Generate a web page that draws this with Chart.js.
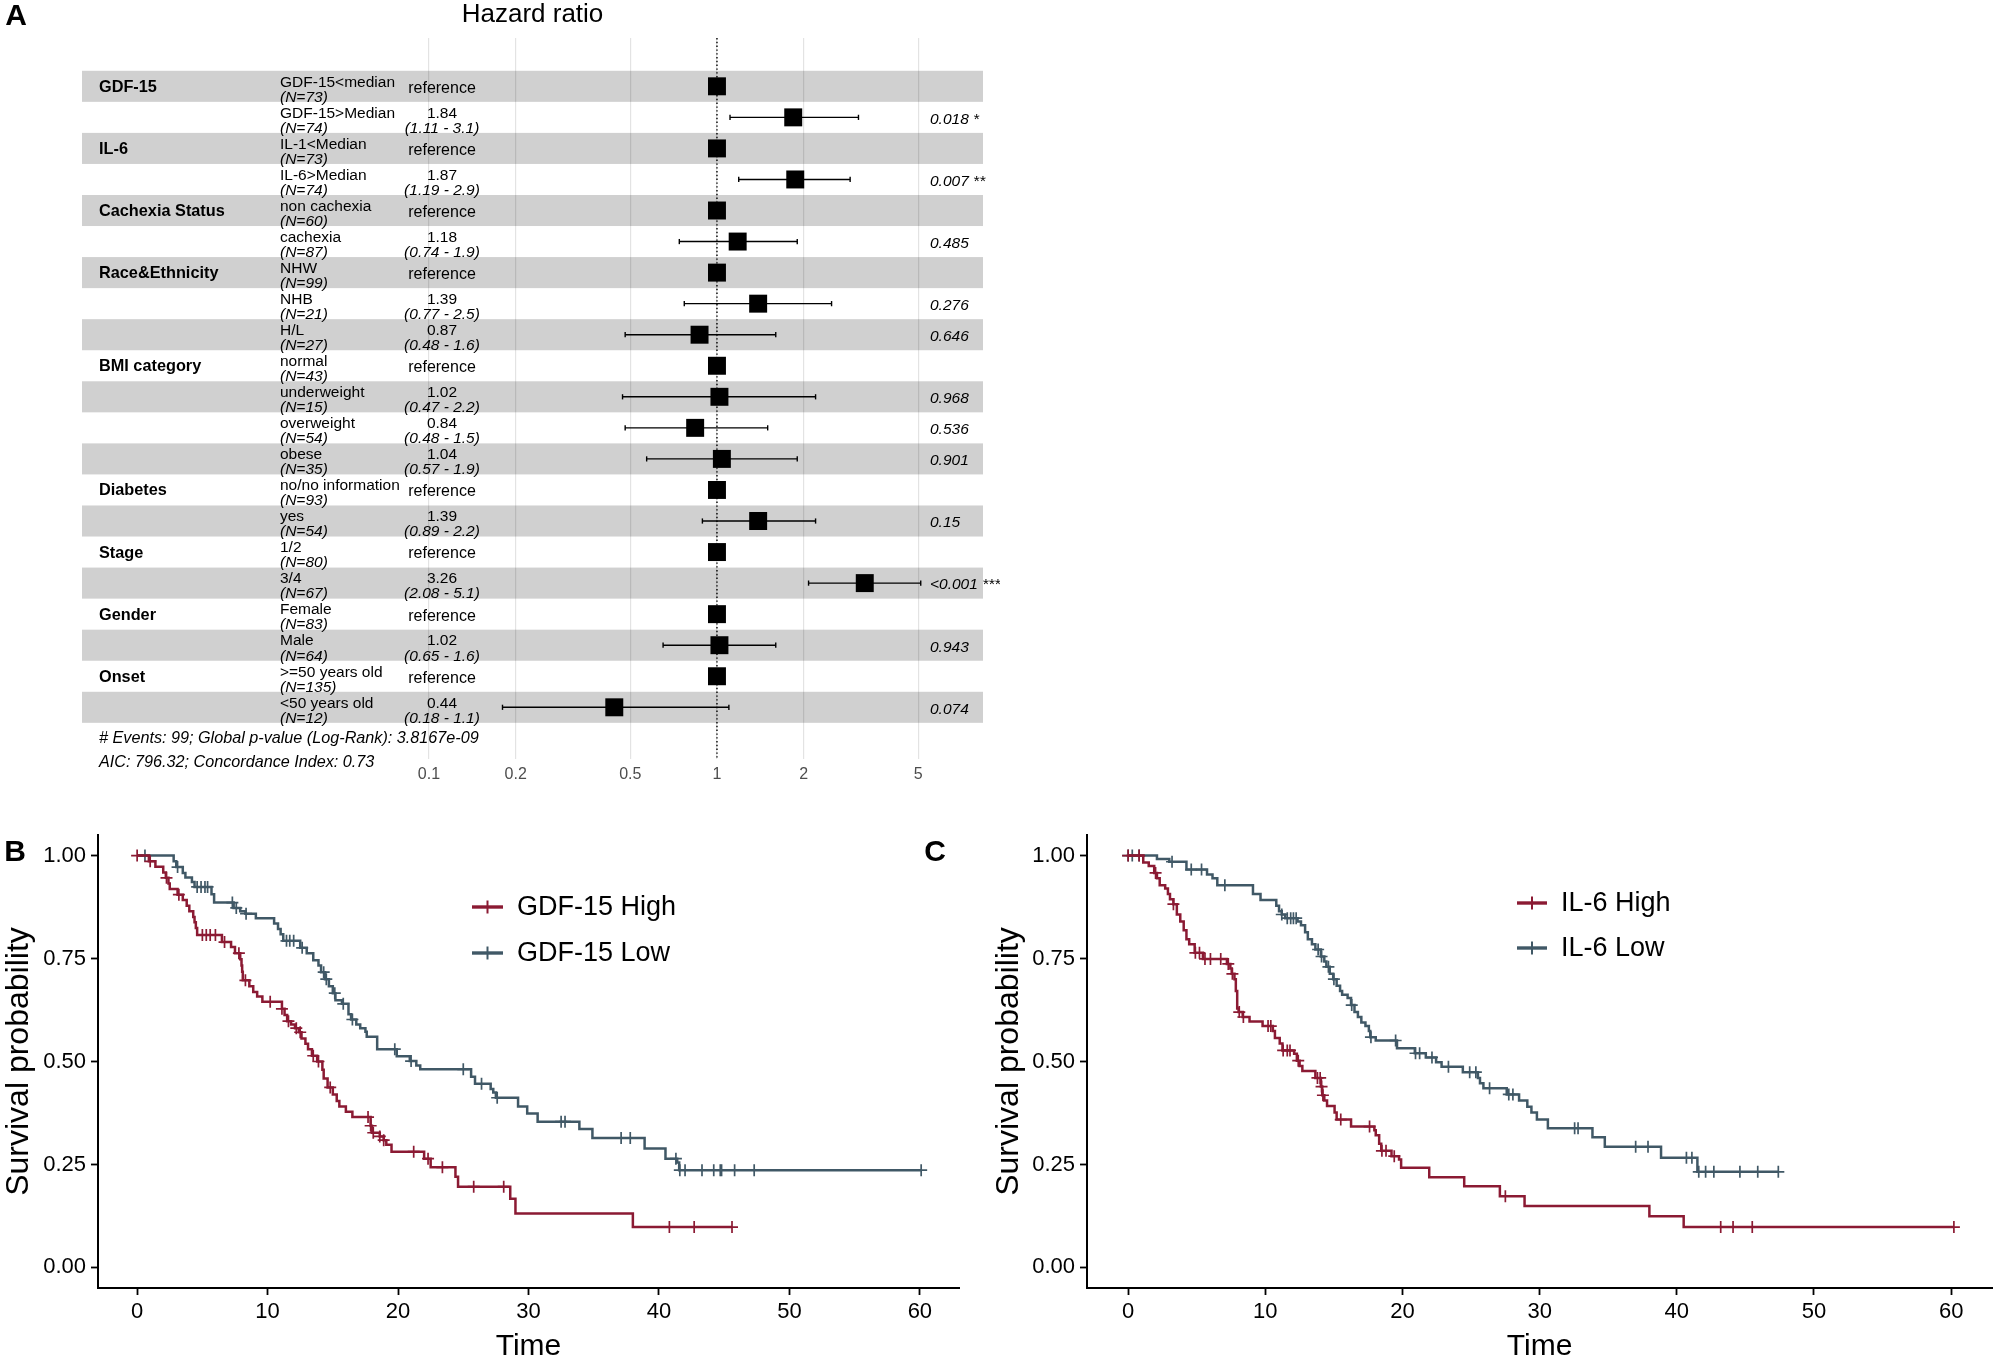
<!DOCTYPE html>
<html>
<head>
<meta charset="utf-8">
<title>Forest plot and Kaplan-Meier curves</title>
<script src="https://cdn.jsdelivr.net/npm/chart.js@4.4.1/dist/chart.umd.min.js"></script>
<style>
html,body{margin:0;padding:0;background:#fff;}
#wrap{position:relative;width:2000px;height:1362px;overflow:hidden;background:#fff;}
#wrap canvas{position:absolute;}
.panel{position:absolute;font:bold 30px "Liberation Sans",Arial,sans-serif;color:#000;line-height:30px;transform:translate(-50%,-50%);}
</style>
</head>
<body>
<div id="wrap">
  <canvas id="forest" width="1000" height="800" style="left:0;top:0;width:1000px;height:800px"></canvas>
  <canvas id="kmB" width="990" height="562" style="left:0;top:800px;width:990px;height:562px"></canvas>
  <canvas id="kmC" width="1010" height="562" style="left:990px;top:800px;width:1010px;height:562px"></canvas>
  <div class="panel" style="left:16px;top:15px">A</div>
  <div class="panel" style="left:15px;top:851px">B</div>
  <div class="panel" style="left:935px;top:851px">C</div>
</div>
<script>
// ---------------- Panel A: forest plot data ----------------
const fpVariables = ['GDF-15','','IL-6','','Cachexia Status','','Race&Ethnicity','','','BMI category','','','','Diabetes','','Stage','','Gender','','Onset',''];
const fpLevels = ['GDF-15<median','GDF-15>Median','IL-1<Median','IL-6>Median','non cachexia','cachexia','NHW','NHB','H/L','normal','underweight','overweight','obese','no/no information','yes','1/2','3/4','Female','Male','>=50 years old','<50 years old'];
const fpN = [73,74,73,74,60,87,99,21,27,43,15,54,35,93,54,80,67,83,64,135,12];
const fpHR = [1,1.84,1,1.87,1,1.18,1,1.39,0.87,1,1.02,0.84,1.04,1,1.39,1,3.26,1,1.02,1,0.44];
const fpLow = [null,1.11,null,1.19,null,0.74,null,0.77,0.48,null,0.47,0.48,0.57,null,0.89,null,2.08,null,0.65,null,0.18];
const fpHigh = [null,3.1,null,2.9,null,1.9,null,2.5,1.6,null,2.2,1.5,1.9,null,2.2,null,5.1,null,1.6,null,1.1];
const fpP = ['','0.018 *','','0.007 **','','0.485','','0.276','0.646','','0.968','0.536','0.901','','0.15','','<0.001 ***','','0.943','','0.074'];
const fpTicks = [0.1,0.2,0.5,1,2,5];
const fpTickLabels = ['0.1','0.2','0.5','1','2','5'];
const fpTitle = 'Hazard ratio';
const fpFooter = ['# Events: 99; Global p-value (Log-Rank): 3.8167e-09','AIC: 796.32; Concordance Index: 0.73'];
const fpRefValue = 1;

// ---------------- Panels B/C: Kaplan-Meier data ----------------
const kmTimeTicks = [0,10,20,30,40,50,60];
const kmSurvTicks = [0,0.25,0.5,0.75,1];
const kmSurvLabels = ['0.00','0.25','0.50','0.75','1.00'];
const kmXTitle = 'Time';
const kmYTitle = 'Survival probability';

const bLabels = ['GDF-15 High','GDF-15 Low'];
const bHighT = [0.9,1.4,2.0,2.2,2.4,2.5,3.1,3.5,3.8,4.0,4.3,4.4,4.5,4.6,6.5,7.2,7.5,7.9,8.0,8.05,8.1,8.6,8.9,9.2,9.6,11.1,11.3,11.5,11.8,12.1,12.4,12.6,12.9,13.1,13.4,13.8,14.2,14.3,14.6,15.0,15.3,15.5,16.0,16.5,17.9,18.0,18.6,18.9,19.1,19.5,22.0,22.5,24.4,24.6,28.6,29.0,38.0];
const bHighS = [0.986,0.973,0.959,0.946,0.932,0.919,0.905,0.892,0.878,0.865,0.851,0.838,0.824,0.807,0.790,0.778,0.763,0.748,0.733,0.718,0.697,0.683,0.669,0.658,0.645,0.628,0.613,0.598,0.590,0.581,0.571,0.556,0.543,0.530,0.514,0.500,0.480,0.459,0.437,0.420,0.404,0.391,0.378,0.365,0.344,0.327,0.318,0.309,0.298,0.281,0.264,0.243,0.220,0.196,0.167,0.131,0.098];
const bHighCens = [0,1.0,2.25,3.2,5.0,5.3,5.6,6.0,6.7,7.8,8.3,10.2,11.1,11.6,12.2,12.5,13.5,13.9,14.8,17.7,17.9,18.1,18.6,18.9,21.2,22.3,23.4,25.8,28.1,40.8,42.7,45.6];
const bLowT = [2.8,3.0,3.5,3.7,4.2,4.4,5.7,5.9,7.4,7.9,8.3,9.1,10.5,10.8,11.0,11.2,12.5,13.0,13.5,13.9,14.1,14.4,14.7,15.0,15.2,15.7,16.2,16.4,16.8,17.1,17.5,17.6,18.4,19.9,20.9,21.4,21.7,25.6,25.9,27.1,27.3,27.5,29.2,29.9,30.7,33.9,34.9,38.9,40.5,41.4,41.55];
const bLowS = [0.986,0.972,0.958,0.947,0.936,0.924,0.906,0.886,0.873,0.865,0.859,0.848,0.835,0.822,0.809,0.793,0.776,0.763,0.746,0.733,0.717,0.700,0.683,0.666,0.649,0.640,0.615,0.602,0.590,0.581,0.572,0.560,0.530,0.513,0.501,0.490,0.481,0.463,0.446,0.433,0.425,0.412,0.391,0.374,0.354,0.336,0.314,0.289,0.264,0.255,0.236];
const bLowCens = [0.6,3.1,4.6,4.9,5.2,5.4,7.3,7.6,8.35,11.45,11.7,12.0,12.65,14.3,14.5,15.15,15.8,16.5,19.75,21.0,25.0,26.4,27.6,32.5,32.8,37.1,37.8,41.3,41.6,42.0,43.3,44.2,44.7,44.8,45.8,47.3,60.1];

const cLabels = ['IL-6 High','IL-6 Low'];
const cHighT = [1.1,1.5,1.9,2.1,2.3,2.7,2.9,3.05,3.3,3.55,3.8,4.05,4.25,4.45,4.85,5.45,7.2,7.45,7.55,7.75,7.85,7.95,8.05,8.35,8.85,9.8,10.55,10.7,11.05,11.25,12.1,12.3,12.5,12.7,13.65,14.05,14.15,14.3,14.5,15.05,15.2,16.25,17.95,18.05,18.3,18.45,19.2,19.75,19.9,21.95,24.5,27.1,28.9,38.0,40.5];
const cHighS = [0.983,0.975,0.958,0.945,0.928,0.920,0.907,0.894,0.882,0.857,0.840,0.819,0.797,0.785,0.764,0.749,0.737,0.726,0.713,0.700,0.671,0.629,0.620,0.608,0.597,0.586,0.574,0.557,0.544,0.527,0.519,0.502,0.489,0.477,0.460,0.439,0.418,0.405,0.392,0.376,0.359,0.342,0.333,0.321,0.300,0.283,0.270,0.262,0.242,0.219,0.197,0.173,0.149,0.124,0.098];
const cHighCens = [0,0.8,2.0,3.3,4.9,5.2,5.6,6.0,6.75,7.3,7.6,8.1,8.4,10.2,10.4,11.3,11.6,11.8,12.4,13.8,14.0,14.1,14.2,15.5,17.6,18.5,18.8,19.4,27.5,43.2,44.1,45.5,60.2];
const cLowT = [2.1,3.0,4.25,5.75,6.15,6.5,9.1,9.65,10.8,11.0,11.2,11.45,12.35,12.6,12.9,13.1,13.4,13.65,14.05,14.3,14.45,14.7,14.95,15.2,15.45,15.6,16.0,16.25,16.5,16.75,17.0,17.3,17.55,17.65,18.05,19.6,20.9,21.7,22.45,22.85,24.4,25.5,25.65,25.9,27.6,28.5,29.1,29.4,29.8,30.6,33.85,34.75,38.85,41.5];
const cLowS = [0.992,0.985,0.966,0.954,0.945,0.928,0.907,0.892,0.878,0.865,0.857,0.848,0.840,0.831,0.814,0.797,0.785,0.772,0.755,0.743,0.730,0.713,0.700,0.684,0.671,0.662,0.654,0.637,0.620,0.608,0.595,0.586,0.574,0.559,0.551,0.532,0.520,0.510,0.498,0.487,0.474,0.460,0.447,0.435,0.420,0.405,0.390,0.376,0.359,0.338,0.316,0.293,0.266,0.232];
const cLowCens = [0,0.3,0.8,3.2,4.6,5.35,7.05,11.2,11.6,11.85,12.05,12.25,13.85,14.1,14.6,15.0,16.3,17.7,19.5,20.95,21.25,22.15,23.35,24.9,25.35,26.35,27.75,28.05,32.55,32.8,37.0,37.9,40.7,41.1,41.6,42.1,42.7,44.6,45.9,47.4];

// ---------------- styling ----------------
const FONT = '"Liberation Sans", Arial, sans-serif';
const RED = '#8B1A33';
const BLUE = '#405866';

// ================= Panel A =================
const fYmin = -1.556, fYmax = 21.665;
const errData = [];
fpHR.forEach((v, i) => {
  if (fpLow[i] !== null) {
    errData.push({x: fpLow[i], y: i}, {x: fpHigh[i], y: i}, {x: fpHigh[i], y: NaN});
  }
});

const forestPlugin = {
  id: 'forestDecor',
  beforeDraw(chart) {
    const {ctx, chartArea: a, scales: {y}} = chart;
    ctx.save();
    ctx.fillStyle = '#d0d0d0';
    fpLevels.forEach((_, i) => {
      if (i % 2 === 0) {
        const t = y.getPixelForValue(i - 0.5), b = y.getPixelForValue(i + 0.5);
        ctx.fillRect(a.left, t, a.right - a.left, b - t);
      }
    });
    ctx.restore();
  },
  afterDraw(chart) {
    const {ctx, chartArea: a, scales: {y}} = chart;
    const xVar = 99, xLev = 280, xHR = 442, xP = 930;
    ctx.save();
    ctx.fillStyle = '#000';
    ctx.textBaseline = 'middle';
    fpLevels.forEach((lev, i) => {
      const yc = y.getPixelForValue(i) + 1;
      if (fpVariables[i]) {
        ctx.font = 'bold 16.3px ' + FONT; ctx.textAlign = 'left';
        ctx.fillText(fpVariables[i], xVar, yc);
      }
      ctx.textAlign = 'left';
      ctx.font = '15.5px ' + FONT;
      ctx.fillText(lev, xLev, yc - 5);
      ctx.font = 'italic 15.5px ' + FONT;
      ctx.fillText('(N=' + fpN[i] + ')', xLev, yc + 10);
      ctx.textAlign = 'center';
      if (fpLow[i] === null) {
        ctx.font = '16px ' + FONT;
        ctx.fillText('reference', xHR, yc + 1);
      } else {
        ctx.font = '15.5px ' + FONT;
        ctx.fillText(fpHR[i].toFixed(2), xHR, yc - 5);
        ctx.font = 'italic 15.5px ' + FONT;
        ctx.fillText('(' + fpLow[i] + ' - ' + fpHigh[i] + ')', xHR, yc + 10);
      }
      if (fpP[i]) {
        ctx.textAlign = 'left';
        ctx.font = 'italic 15.5px ' + FONT;
        ctx.fillText(fpP[i], xP, yc + 1);
      }
    });
    ctx.textAlign = 'left';
    ctx.font = 'italic 16.2px ' + FONT;
    ctx.fillText(fpFooter[0], xVar, y.getPixelForValue(21.02));
    ctx.fillText(fpFooter[1], xVar, y.getPixelForValue(21.78));
    ctx.textAlign = 'center';
    ctx.font = '26px ' + FONT;
    ctx.fillText(fpTitle, (a.left + a.right) / 2, 15);
    ctx.restore();
  }
};

new Chart(document.getElementById('forest'), {
  type: 'scatter',
  data: {
    datasets: [
      {label: 'ref', type: 'line', data: [{x: fpRefValue, y: fYmin}, {x: fpRefValue, y: fYmax}],
       borderColor: '#000', borderWidth: 1.4, borderDash: [1.4, 2.4], pointRadius: 0, order: 3},
      {label: 'ci', type: 'line', data: errData, borderColor: '#000', borderWidth: 1.4, spanGaps: false,
       pointStyle: 'line', pointRotation: 90, pointRadius: 2.6, pointBorderWidth: 1.4,
       pointBorderColor: '#000', pointBackgroundColor: '#000', order: 2},
      {label: 'hr', data: fpHR.map((v, i) => ({x: v, y: i})), pointStyle: 'rect', pointRadius: 12.7,
       backgroundColor: '#000', borderColor: '#000', borderWidth: 0, order: 1}
    ]
  },
  options: {
    responsive: false, animation: false, events: [],
    layout: {padding: {left: 82, right: 17, top: 38, bottom: 0}},
    plugins: {legend: {display: false}, tooltip: {enabled: false}},
    scales: {
      x: {
        type: 'logarithmic', min: 0.00624, max: 8.39, bounds: 'data', position: 'bottom',
        afterBuildTicks: (s) => { s.ticks = fpTicks.map(v => ({value: v})); },
        afterFit: (s) => { s.height = 41; },
        grid: {color: 'rgba(0,0,0,0.11)', lineWidth: 1.2, drawTicks: false},
        border: {display: false},
        ticks: {autoSkip: false, maxRotation: 0, padding: 6, color: '#4d4d4d',
                font: {family: FONT, size: 16},
                callback: (v) => fpTickLabels[fpTicks.indexOf(v)]}
      },
      y: {type: 'linear', display: false, min: fYmin, max: fYmax, reverse: true, bounds: 'data'}
    }
  },
  plugins: [forestPlugin]
});

// ================= Panels B and C =================
function stepLookup(T, S, t) {
  let s = 1;
  for (let k = 0; k < T.length; k++) { if (T[k] <= t) s = S[k]; else break; }
  return s;
}
function kmLine(T, S, cens) {
  const pts = [{x: 0, y: 1}];
  T.forEach((t, k) => pts.push({x: t, y: S[k]}));
  const end = Math.max(Math.max(...cens), T[T.length - 1]);
  pts.push({x: end, y: stepLookup(T, S, end)});
  return pts;
}
function kmCens(T, S, cens) { return cens.map(t => ({x: t, y: stepLookup(T, S, t)})); }

const kmLegendPlugin = {
  id: 'kmLegend',
  afterDatasetsDraw(chart, args, o) {
    const ctx = chart.ctx;
    ctx.save();
    o.labels.forEach((lab, i) => {
      const yy = o.ys[i];
      ctx.strokeStyle = o.colors[i];
      ctx.lineWidth = 3.4;
      ctx.beginPath(); ctx.moveTo(o.x0, yy); ctx.lineTo(o.x1, yy); ctx.stroke();
      ctx.lineWidth = 2;
      const xm = (o.x0 + o.x1) / 2;
      ctx.beginPath(); ctx.moveTo(xm, yy - 6.5); ctx.lineTo(xm, yy + 6.5); ctx.stroke();
      ctx.fillStyle = '#000';
      ctx.font = '27px ' + FONT;
      ctx.textAlign = 'left'; ctx.textBaseline = 'middle';
      ctx.fillText(lab, o.xText, yy + 1);
    });
    ctx.restore();
  }
};

function makeKM(id, labels, hi, lo, cfg) {
  new Chart(document.getElementById(id), {
    type: 'line',
    data: {
      datasets: [
        {label: labels[0], data: kmLine(hi.T, hi.S, hi.C), stepped: true, borderColor: RED, borderWidth: 2.5, pointRadius: 0, fill: false},
        {label: labels[0] + ' censored', data: kmCens(hi.T, hi.S, hi.C), showLine: false, pointStyle: 'cross', pointRadius: 6, pointBorderColor: RED, pointBorderWidth: 1.7, borderColor: RED},
        {label: labels[1], data: kmLine(lo.T, lo.S, lo.C), stepped: true, borderColor: BLUE, borderWidth: 2.5, pointRadius: 0, fill: false},
        {label: labels[1] + ' censored', data: kmCens(lo.T, lo.S, lo.C), showLine: false, pointStyle: 'cross', pointRadius: 6, pointBorderColor: BLUE, pointBorderWidth: 1.7, borderColor: BLUE}
      ]
    },
    options: {
      responsive: false, animation: false, events: [],
      layout: {padding: {left: 0, top: 35, right: cfg.padRight, bottom: 0}},
      plugins: {
        legend: {display: false}, tooltip: {enabled: false},
        kmLegend: {labels: labels, colors: [RED, BLUE], x0: cfg.legX0, x1: cfg.legX1, xText: cfg.legText, ys: cfg.legY}
      },
      scales: {
        x: {
          type: 'linear', min: -3, max: 63, bounds: 'data',
          afterBuildTicks: (s) => { s.ticks = kmTimeTicks.map(v => ({value: v})); },
          afterFit: (s) => { s.height = 74; },
          grid: {drawOnChartArea: false, drawTicks: true, tickLength: 7, tickColor: '#000', tickWidth: 1.8},
          border: {display: true, color: '#000', width: 2},
          ticks: {color: '#000', font: {family: FONT, size: 22}, padding: 4, autoSkip: false, maxRotation: 0,
                  callback: (v) => String(v)},
          title: {display: true, text: kmXTitle, color: '#000', font: {family: FONT, size: 30, lineHeight: 1}, padding: {top: 0, bottom: 0}}
        },
        y: {
          type: 'linear', min: -0.05, max: 1.05, bounds: 'data',
          afterBuildTicks: (s) => { s.ticks = kmSurvTicks.map(v => ({value: v})); },
          afterFit: (s) => { s.width = cfg.axisW; },
          grid: {drawOnChartArea: false, drawTicks: true, tickLength: 7, tickColor: '#000', tickWidth: 1.8},
          border: {display: true, color: '#000', width: 2},
          ticks: {color: '#000', font: {family: FONT, size: 22}, padding: 5, autoSkip: false,
                  callback: (v) => kmSurvLabels[kmSurvTicks.indexOf(v)]},
          title: {display: true, text: kmYTitle, color: '#000', font: {family: FONT, size: 32, lineHeight: 1}, padding: {top: 3, bottom: 0}}
        }
      }
    },
    plugins: [kmLegendPlugin]
  });
}

makeKM('kmB', bLabels,
  {T: bHighT, S: bHighS, C: bHighCens}, {T: bLowT, S: bLowS, C: bLowCens},
  {padRight: 31, axisW: 98, legX0: 472, legX1: 503, legText: 517, legY: [107, 153]});
makeKM('kmC', cLabels,
  {T: cHighT, S: cHighS, C: cHighCens}, {T: cLowT, S: cLowS, C: cLowCens},
  {padRight: 4, axisW: 97, legX0: 527, legX1: 557, legText: 571, legY: [103, 148]});
</script>
</body>
</html>
